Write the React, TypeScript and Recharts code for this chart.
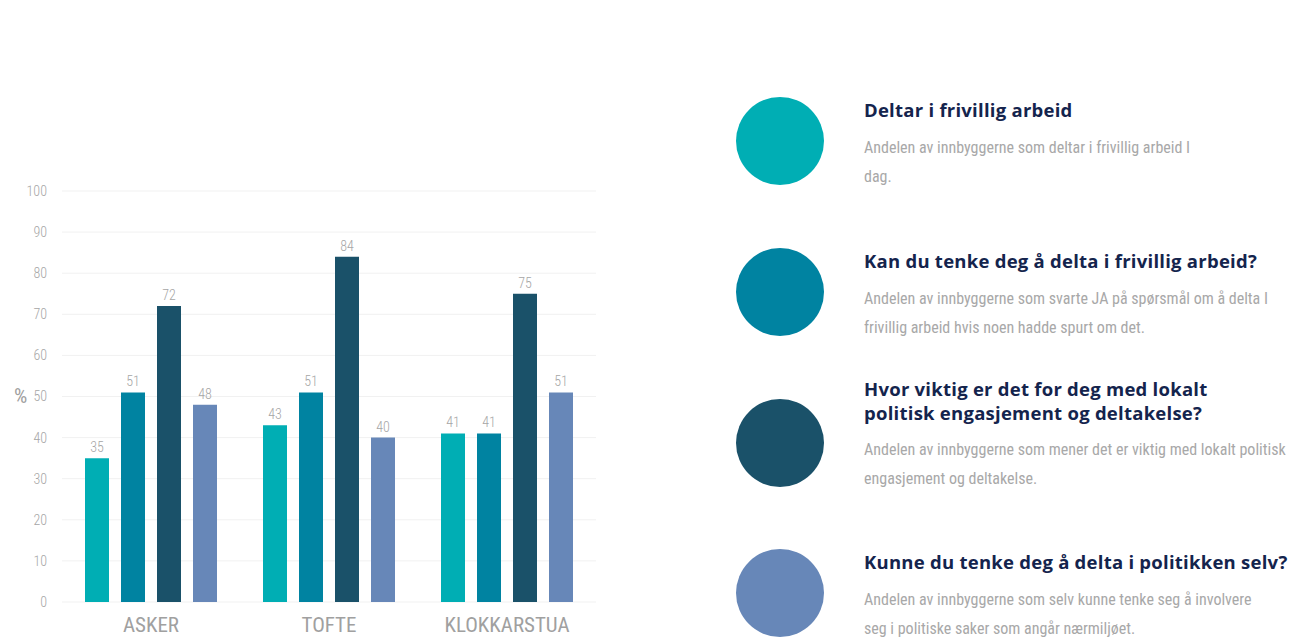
import React from 'react'
import { BarChart, Bar, XAxis, YAxis, CartesianGrid, LabelList } from 'recharts'

const categories = ['ASKER', 'TOFTE', 'KLOKKARSTUA']
const deltar = [35, 43, 41]
const kanDelta = [51, 51, 41]
const viktig = [72, 84, 75]
const politikk = [48, 40, 51]
const yTicks = [0, 10, 20, 30, 40, 50, 60, 70, 80, 90, 100]

const COLORS = ['#00AEB4', '#0083A1', '#1A5169', '#6787B8']

const data = categories.map((name, i) => ({
  name,
  deltar: deltar[i],
  kanDelta: kanDelta[i],
  viktig: viktig[i],
  politikk: politikk[i],
}))

const series = ['deltar', 'kanDelta', 'viktig', 'politikk']

const legendItems = [
  {
    title: ['Deltar i frivillig arbeid'],
    desc: ['Andelen av innbyggerne som deltar i frivillig arbeid I', 'dag.'],
    top: 97,
  },
  {
    title: ['Kan du tenke deg å delta i frivillig arbeid?'],
    desc: ['Andelen av innbyggerne som svarte JA på spørsmål om å delta I', 'frivillig arbeid hvis noen hadde spurt om det.'],
    top: 248,
  },
  {
    title: ['Hvor viktig er det for deg med lokalt', 'politisk engasjement og deltakelse?'],
    desc: ['Andelen av innbyggerne som mener det er viktig med lokalt politisk', 'engasjement og deltakelse.'],
    top: 399,
  },
  {
    title: ['Kunne du tenke deg å delta i politikken selv?'],
    desc: ['Andelen av innbyggerne som selv kunne tenke seg å involvere', 'seg i politiske saker som angår nærmiljøet.'],
    top: 549,
  },
]

const narrow = "'Liberation Sans Narrow', 'Roboto Condensed', Roboto, sans-serif"

export default function App() {
  return (
    <div style={{ position: 'absolute', left: 0, top: 0, width: 1295, height: 639, background: '#fff', overflow: 'hidden' }}>
      <div style={{ position: 'absolute', left: 0, top: 0 }}>
        <BarChart
          width={600}
          height={639}
          data={data}
          margin={{ top: 191, right: 4, bottom: 0, left: 0 }}
          barCategoryGap={22}
          barGap={12}
        >
          <CartesianGrid vertical={false} stroke="#f1f1f1" />
          <XAxis
            dataKey="name"
            axisLine={false}
            tickLine={false}
            height={37}
            tickMargin={9}
            tick={{ fill: '#a0a0a0', fontSize: 21, fontFamily: narrow }}
          />
          <YAxis
            domain={[0, 100]}
            ticks={yTicks}
            axisLine={false}
            tickLine={false}
            width={62}
            tickMargin={9}
            tick={{ fill: '#a6a6a6', fontSize: 14, fontFamily: narrow, fontWeight: 300 }}
          />
          {series.map((key, idx) => (
            <Bar key={key} dataKey={key} fill={COLORS[idx]} barSize={24} isAnimationActive={false}>
              <LabelList
                dataKey={key}
                position="top"
                offset={6}
                fill="#a6a6a6"
                fontSize={14}
                fontWeight={300}
                fontFamily={narrow}
              />
            </Bar>
          ))}
        </BarChart>
      </div>
      <div style={{ position: 'absolute', left: 14, top: 384, color: '#a0a0a0', fontSize: 21, fontFamily: narrow }}>%</div>
      {legendItems.map((item, idx) => (
        <div key={idx}>
          <div
            style={{
              position: 'absolute',
              left: 736,
              top: item.top,
              width: 88,
              height: 88,
              borderRadius: '50%',
              background: COLORS[idx],
            }}
          />
          <div
            style={{
              position: 'absolute',
              left: 864,
              top: item.top - (item.title.length > 1 ? 23 : 0) + 1,
              fontFamily: "'Open Sans', 'Noto Sans', sans-serif",
              fontWeight: 700,
              fontSize: 18.5,
              letterSpacing: 0.25,
              lineHeight: '24px',
              color: '#14244d',
              whiteSpace: 'nowrap',
            }}
          >
            {item.title.map((t, i) => (
              <div key={i}>{t}</div>
            ))}
          </div>
          <div
            style={{
              position: 'absolute',
              left: 864,
              top: item.top + 36,
              fontFamily: narrow,
              fontSize: 16,
              lineHeight: '29px',
              color: '#a8a8a8',
              whiteSpace: 'nowrap',
            }}
          >
            {item.desc.map((t, i) => (
              <div key={i}>{t}</div>
            ))}
          </div>
        </div>
      ))}
    </div>
  )
}
